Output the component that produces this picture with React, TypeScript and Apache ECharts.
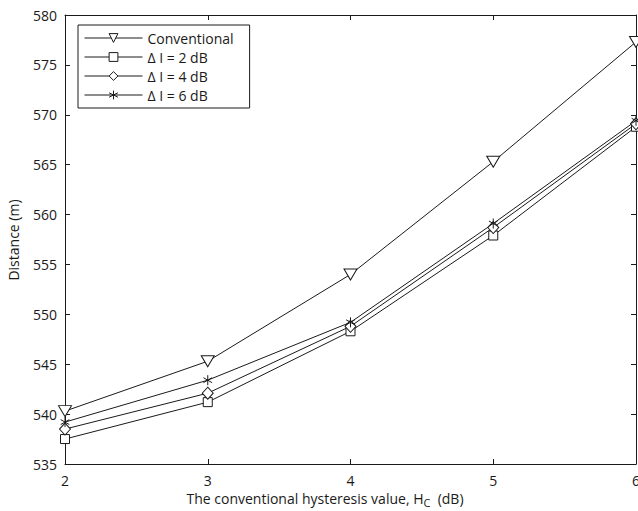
import React, { useEffect, useRef } from "react";
import * as echarts from "echarts";

const xValues = [2, 3, 4, 5, 6];
const conventional = [540.3, 545.3, 554.0, 565.3, 577.3];
const dI2 = [537.5, 541.2, 548.3, 557.9, 568.8];
const dI4 = [538.5, 542.1, 548.8, 558.7, 569.1];
const dI6 = [539.2, 543.4, 549.2, 559.1, 569.4];
const seriesNames = ["Conventional", "\u0394 I = 2 dB", "\u0394 I = 4 dB", "\u0394 I = 6 dB"];

const FONT = "'Open Sans', 'DejaVu Sans', sans-serif";
const INK = "#1a1a1a";
const star = "path://M0,-10L0,10M-8.66,-5L8.66,5M-8.66,5L8.66,-5";

export default function App() {
  const ref = useRef<HTMLDivElement>(null);
  useEffect(() => {
    if (!ref.current) return;
    const chart = echarts.init(ref.current, null, { renderer: "svg" });
    const pair = (ys: number[]) => xValues.map((x, i) => [x, ys[i]]);
    const mk = (name: string, ys: number[], symbol: string, size: number | number[], rotate = 0) => ({
      name,
      type: "line",
      data: pair(ys),
      symbol,
      symbolSize: size,
      symbolRotate: rotate,
      symbolKeepAspect: true,
      showAllSymbol: true,
      lineStyle: { color: INK, width: 1 },
      itemStyle: { color: "#ffffff", borderColor: INK, borderWidth: 1 },
      emphasis: { disabled: true },
    });
    const baseAxisLine = { show: true, lineStyle: { color: INK, width: 1 } };
    chart.setOption({
      animation: false,
      backgroundColor: "#ffffff",
      textStyle: { fontFamily: FONT },
      grid: { left: 65, top: 15, right: 2, bottom: 47, outerBoundsMode: "none", containLabel: false },
      legend: {
        orient: "vertical",
        left: 78,
        top: 25,
        padding: [6, 16, 6, 6],
        itemGap: 5,
        itemWidth: 58,
        itemHeight: 11,
        backgroundColor: "#ffffff",
        borderColor: INK,
        borderWidth: 1,
        lineStyle: { width: 1, color: INK },
        itemStyle: { color: "#ffffff", borderColor: INK, borderWidth: 1 },
        textStyle: { fontFamily: FONT, fontSize: 14, color: INK, padding: [0, 0, 0, 0] },
        data: seriesNames,
      },
      xAxis: [
        {
          type: "value",
          min: 2,
          max: 6,
          interval: 1,
          axisLine: baseAxisLine,
          axisTick: { show: true, inside: true, length: 5, lineStyle: { color: INK } },
          axisLabel: { fontFamily: FONT, fontSize: 14, color: INK, margin: 9, hideOverlap: false },
          splitLine: { show: false },
        },
        {
          type: "value",
          position: "top",
          min: 2,
          max: 6,
          interval: 1,
          axisLine: baseAxisLine,
          axisTick: { show: true, inside: true, length: 5, lineStyle: { color: INK } },
          axisLabel: { show: false },
          splitLine: { show: false },
        },
      ],
      yAxis: [
        {
          type: "value",
          min: 535,
          max: 580,
          interval: 5,
          axisLine: baseAxisLine,
          axisTick: { show: true, inside: true, length: 5, lineStyle: { color: INK } },
          axisLabel: { fontFamily: FONT, fontSize: 14, color: INK, margin: 8 },
          splitLine: { show: false },
        },
        {
          type: "value",
          position: "right",
          min: 535,
          max: 580,
          interval: 5,
          axisLine: baseAxisLine,
          axisTick: { show: true, inside: true, length: 5, lineStyle: { color: INK } },
          axisLabel: { show: false },
          splitLine: { show: false },
        },
      ],
      series: [
        mk(seriesNames[0], conventional, "triangle", [13, 11], 180),
        mk(seriesNames[1], dI2, "rect", 9),
        mk(seriesNames[2], dI4, "diamond", [11, 12]),
        mk(seriesNames[3], dI6, star, 10),
      ],
      graphic: [
        {
          type: "text",
          x: 13,
          y: 240,
          rotation: Math.PI / 2,
          style: {
            text: "Distance (m)",
            fontFamily: FONT,
            fontSize: 14,
            fill: INK,
            align: "center",
            verticalAlign: "middle",
          },
        },
        {
          type: "text",
          x: 325,
          y: 498,
          style: {
            text: "{a|The conventional hysteresis value, H}{s|C}{a|  (dB)}",
            align: "center",
            verticalAlign: "middle",
            rich: {
              a: { fontFamily: FONT, fontSize: 14, fill: INK, color: INK, lineHeight: 18, verticalAlign: "middle" },
              s: { fontFamily: FONT, fontSize: 11, fill: INK, color: INK, lineHeight: 18, padding: [8, 0, 0, 0] },
            },
          },
        },
      ],
    });
    return () => chart.dispose();
  }, []);
  return (
    <div
      ref={ref}
      style={{ position: "fixed", left: 0, top: 0, width: 638, height: 511, background: "#fff" }}
    />
  );
}
